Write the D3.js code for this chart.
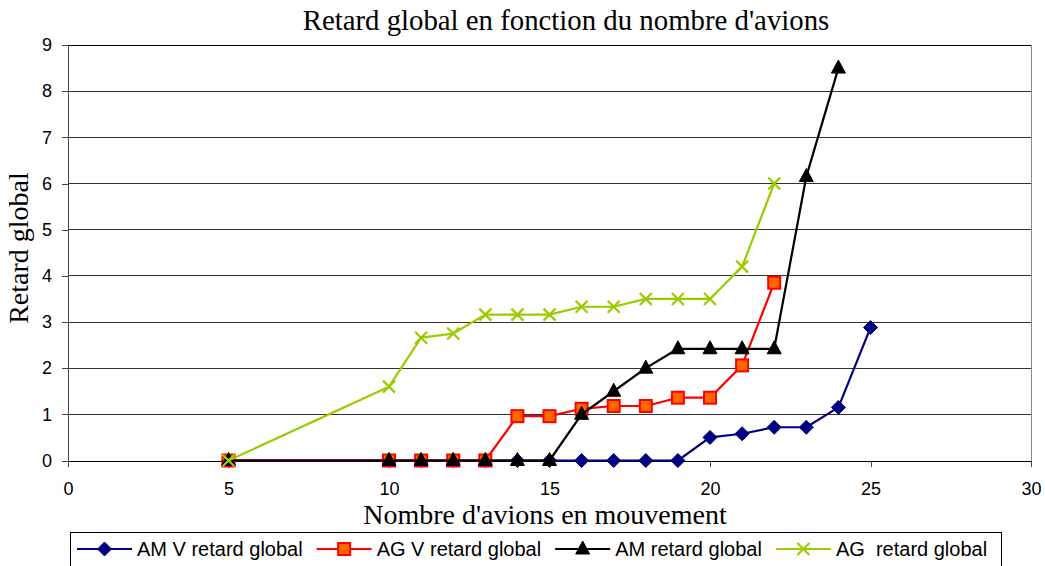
<!DOCTYPE html>
<html>
<head>
<meta charset="utf-8">
<script src="https://cdn.jsdelivr.net/npm/d3@7"></script>
<style>
  html, body { margin: 0; padding: 0; background: #fff; }
  svg { display: block; }
</style>
</head>
<body>
<svg id="chart" width="1045" height="566"></svg>
<script>
// Number of aircraft in movement (shared x positions)
const nAvions = [5, 10, 11, 12, 13, 14, 15, 16, 17, 18, 19, 20, 21, 22, 23, 24, 25];

// Global delay per series (each series covers a prefix of nAvions)
const amVRetard = [0, 0, 0, 0, 0, 0, 0, 0, 0, 0, 0, 0.5, 0.58, 0.72, 0.72, 1.15, 2.88];
const agVRetard = [0, 0, 0, 0, 0, 0.96, 0.96, 1.12, 1.18, 1.18, 1.36, 1.36, 2.06, 3.85];
const amRetard  = [0, 0, 0, 0, 0, 0, 0, 1.0, 1.5, 2.0, 2.42, 2.42, 2.42, 2.42, 6.15, 8.5];
const agRetard  = [0, 1.6, 2.66, 2.75, 3.16, 3.16, 3.16, 3.33, 3.33, 3.5, 3.5, 3.5, 4.2, 6.0];

const seriesNames = ["AM V retard global", "AG V retard global", "AM retard global", "AG  retard global"];

const xTicks = [0, 5, 10, 15, 20, 25, 30];
const yTicks = [0, 1, 2, 3, 4, 5, 6, 7, 8, 9];

const titleText = "Retard global en fonction du nombre d'avions";
const xTitle = "Nombre d'avions en mouvement";
const yTitle = "Retard global";

const series = [
  { name: seriesNames[0], values: amVRetard, color: "#000080", marker: "diamond" },
  { name: seriesNames[1], values: agVRetard, color: "#FF0000", marker: "square" },
  { name: seriesNames[2], values: amRetard,  color: "#000000", marker: "triangle" },
  { name: seriesNames[3], values: agRetard,  color: "#99CC00", marker: "cross" }
];

const svg = d3.select("#chart");
const plot = { left: 68, right: 1031, top: 45, bottom: 460.5 };

const x = d3.scaleLinear().domain([0, 30]).range([plot.left, plot.right]);
const y = d3.scaleLinear().domain([0, 9]).range([plot.bottom, plot.top]);

const serif = "'Liberation Serif', 'Times New Roman', serif";
const sans = "'Liberation Sans', Arial, sans-serif";

// Horizontal gridlines
svg.append("g")
  .selectAll("line")
  .data(yTicks.filter(d => d > 0))
  .join("line")
  .attr("x1", plot.left).attr("x2", plot.right)
  .attr("y1", d => y(d)).attr("y2", d => y(d))
  .attr("stroke", d => d === 9 ? "#000" : "#333")
  .attr("stroke-width", 1)
  .attr("shape-rendering", "crispEdges");

// Right edge of the plot area
svg.append("line")
  .attr("x1", plot.right).attr("x2", plot.right)
  .attr("y1", plot.top).attr("y2", plot.bottom)
  .attr("stroke", "#888").attr("stroke-width", 1)
  .attr("shape-rendering", "crispEdges");

// Y axis
const yAxis = svg.append("g")
  .attr("transform", `translate(${plot.left},0)`)
  .call(d3.axisLeft(y).tickValues(yTicks).tickSize(6).tickPadding(10).tickFormat(d3.format("d")));
yAxis.select(".domain").attr("stroke", "#444").attr("shape-rendering", "crispEdges");
yAxis.selectAll(".tick line").attr("stroke", "#444").attr("shape-rendering", "crispEdges");
yAxis.selectAll("text").attr("font-family", sans).attr("font-size", 18).attr("fill", "#000");

// X axis
const xAxis = svg.append("g")
  .attr("transform", `translate(0,${plot.bottom})`)
  .call(d3.axisBottom(x).tickValues(xTicks).tickSize(6).tickPadding(16).tickSizeOuter(0));
xAxis.select(".domain").attr("stroke", "#000").attr("shape-rendering", "crispEdges");
xAxis.selectAll(".tick line").attr("stroke", "#444").attr("shape-rendering", "crispEdges");
xAxis.selectAll("text").attr("font-family", sans).attr("font-size", 18).attr("fill", "#000");

// Titles
svg.append("text")
  .attr("x", 566).attr("y", 30)
  .attr("text-anchor", "middle")
  .attr("font-family", serif).attr("font-size", 28.8)
  .text(titleText);

svg.append("text")
  .attr("x", 545).attr("y", 524)
  .attr("text-anchor", "middle")
  .attr("font-family", serif).attr("font-size", 28)
  .text(xTitle);

svg.append("text")
  .attr("transform", "translate(28,248) rotate(-90)")
  .attr("text-anchor", "middle")
  .attr("font-family", serif).attr("font-size", 28)
  .text(yTitle);

// Marker drawing
function drawMarker(g, type, color) {
  if (type === "diamond") {
    g.append("path").attr("d", "M0,-7L7,0L0,7L-7,0Z").attr("fill", color).attr("stroke", color).attr("stroke-width", 1);
  } else if (type === "square") {
    g.append("rect").attr("x", -6).attr("y", -6).attr("width", 12).attr("height", 12)
      .attr("fill", "#FF6600").attr("stroke", "#FF0000").attr("stroke-width", 2);
  } else if (type === "triangle") {
    g.append("path").attr("d", "M0,-8L7,5L-7,5Z").attr("fill", color).attr("stroke", color).attr("stroke-width", 1);
  } else if (type === "cross") {
    g.append("path").attr("d", "M-6,-6L6,6M-6,6L6,-6").attr("stroke", color).attr("stroke-width", 2.2).attr("fill", "none");
  }
}

const line = d3.line().x(d => x(d[0])).y(d => y(d[1]));

series.forEach(s => {
  const pts = s.values.map((v, i) => [nAvions[i], v]);
  const g = svg.append("g");
  g.append("path")
    .datum(pts)
    .attr("d", line)
    .attr("fill", "none")
    .attr("stroke", s.color)
    .attr("stroke-width", 2.2)
    .attr("stroke-linejoin", "round");
  g.selectAll("g.pt")
    .data(pts)
    .join("g")
    .attr("class", "pt")
    .attr("transform", d => `translate(${x(d[0])},${y(d[1])})`)
    .each(function () { drawMarker(d3.select(this), s.marker, s.color); });
});

// Legend
const legend = svg.append("g");
legend.append("rect")
  .attr("x", 70.5).attr("y", 532.5)
  .attr("width", 931).attr("height", 40)
  .attr("fill", "#fff").attr("stroke", "#000").attr("stroke-width", 1);

let lx = 77;
const ly = 549;
series.forEach(s => {
  const item = legend.append("g");
  item.append("line")
    .attr("x1", lx).attr("x2", lx + 55)
    .attr("y1", ly).attr("y2", ly)
    .attr("stroke", s.color).attr("stroke-width", 2);
  const m = item.append("g").attr("transform", `translate(${lx + 27.5},${ly})`);
  drawMarker(m, s.marker, s.color);
  const t = item.append("text")
    .attr("x", lx + 60).attr("y", ly + 7)
    .attr("font-family", sans).attr("font-size", 20)
    .attr("xml:space", "preserve")
    .style("white-space", "pre")
    .text(s.name);
  lx += 60 + t.node().getComputedTextLength() + 14;
});
</script>
</body>
</html>
